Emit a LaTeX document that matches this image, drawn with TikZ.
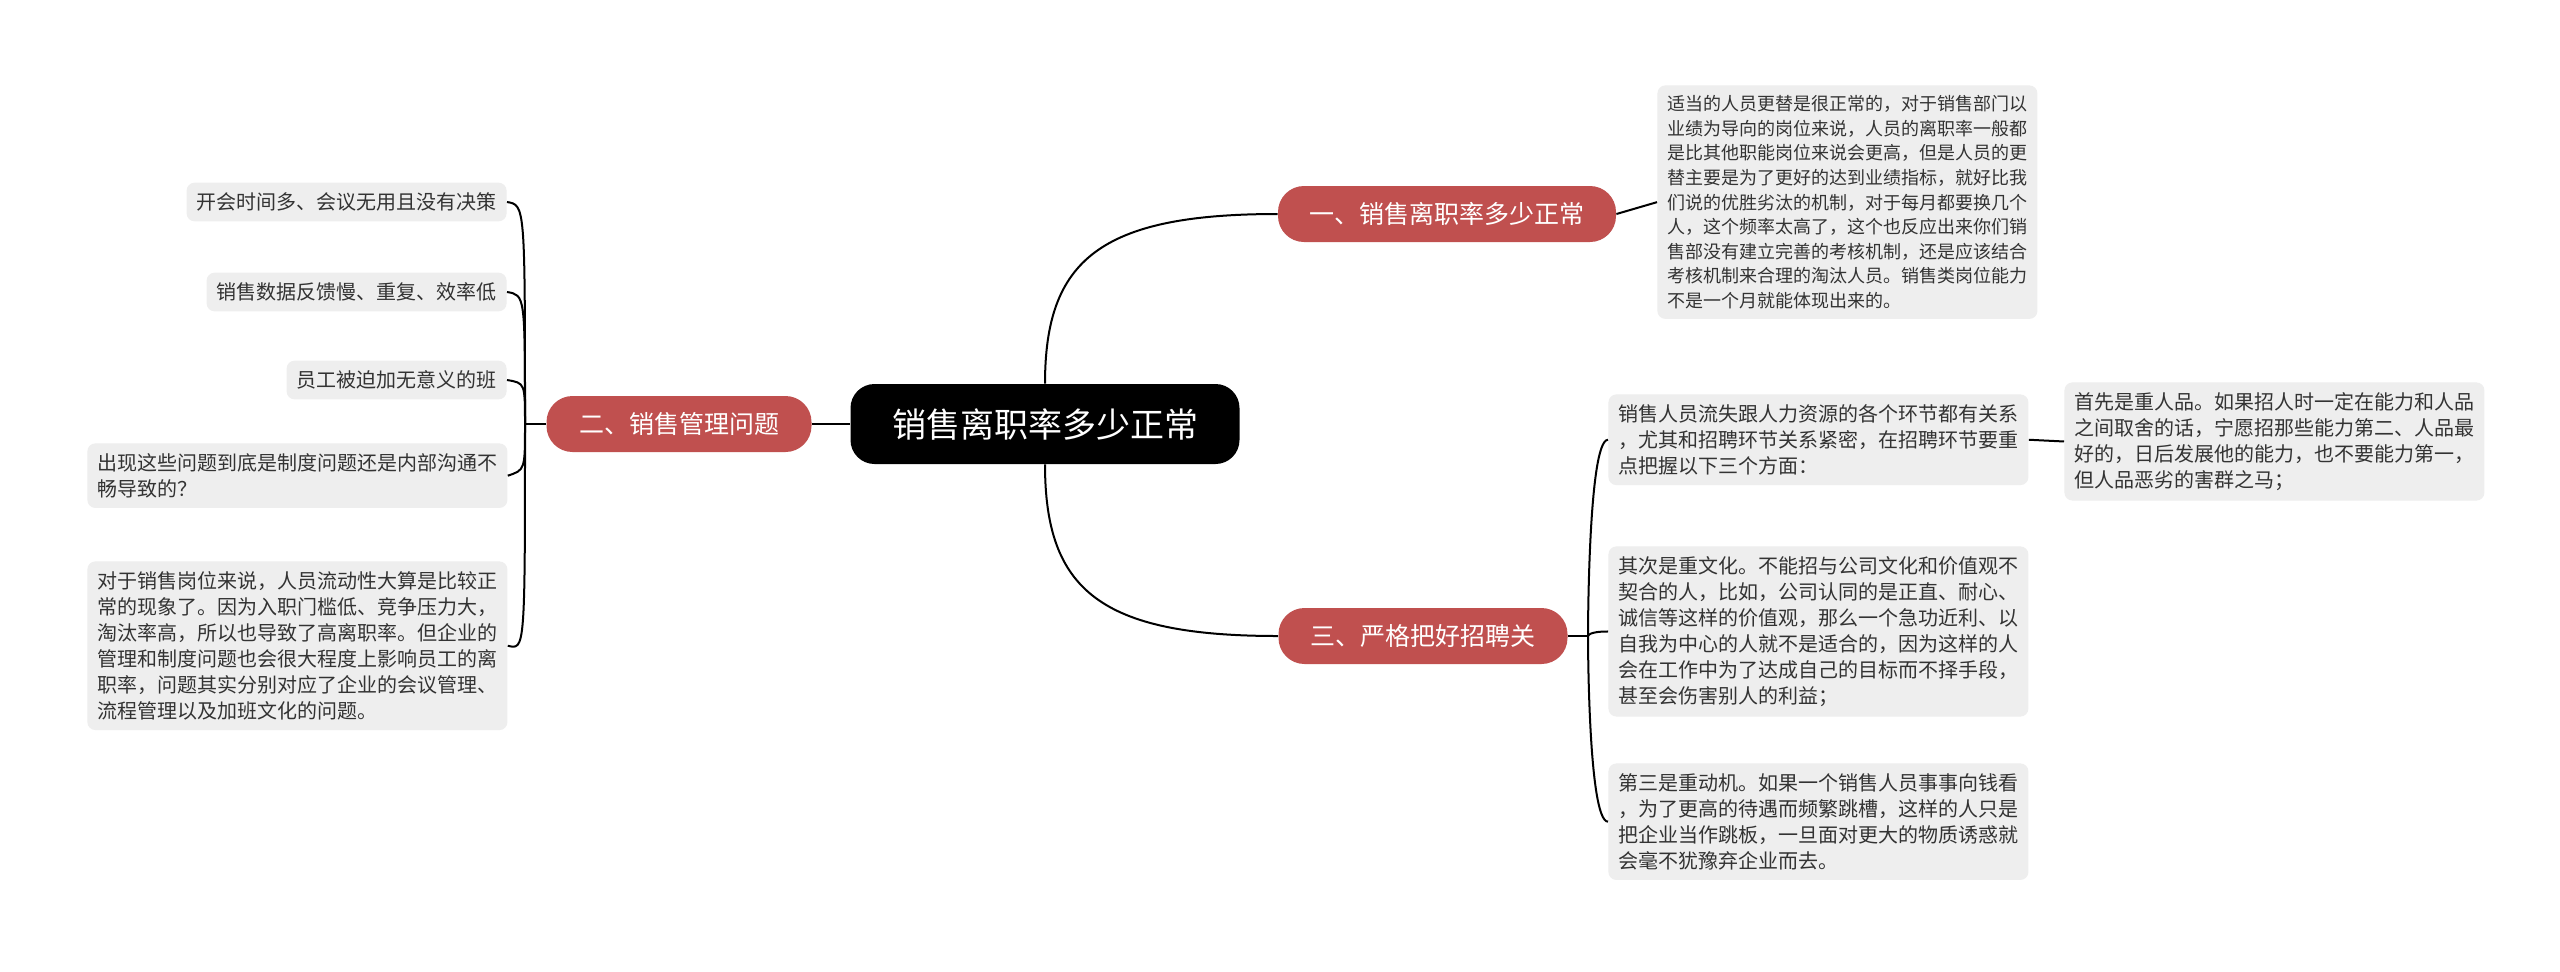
\documentclass[tikz,border=0pt]{standalone}
\usepackage{fontspec}
\setmainfont{Noto Sans CJK SC}
\begin{document}
\begin{tikzpicture}[x=0.5pt,y=-0.5pt,
  rootbox/.style={fill=black,text=white,rounded corners=12pt,font=\fontsize{17}{20}\selectfont,minimum width=194.5pt,minimum height=40pt,inner sep=0pt},
  branchbox/.style={fill=red!55!black!80!white,fill=brn,text=white,rounded corners=13pt,font=\fontsize{12.5}{15}\selectfont,minimum height=28pt,inner xsep=10pt,inner ysep=0pt},
  leafbox/.style={fill=leafc,text=txtc,rounded corners=4pt,font=\fontsize{10}{13}\selectfont,align=left,inner xsep=5pt,inner ysep=5pt},
  smallleaf/.style={leafbox,font=\fontsize{9}{12.3}\selectfont},
  conn/.style={line width=1pt,draw=black}]
\definecolor{brn}{HTML}{C0504F}
\definecolor{leafc}{HTML}{EEEEEE}
\definecolor{txtc}{HTML}{333333}
\fill[white] (0,0) rectangle (2560,971);
\useasboundingbox (0,0) rectangle (2560,971);

\node[rootbox] (root) at (1045,424) {销售离职率多少正常};
\node[branchbox,minimum width=169pt] (b1) at (1447,214) {一、销售离职率多少正常};
\node[branchbox,minimum width=132.5pt] (b2) at (679,424) {二、销售管理问题};
\node[branchbox,minimum width=144.5pt] (b3) at (1423,636) {三、严格把好招聘关};

\node[smallleaf,anchor=north west] (a1) at (1657,85) {适当的人员更替是很正常的，对于销售部门以\\业绩为导向的岗位来说，人员的离职率一般都\\是比其他职能岗位来说会更高，但是人员的更\\替主要是为了更好的达到业绩指标，就好比我\\们说的优胜劣汰的机制，对于每月都要换几个\\人，这个频率太高了，这个也反应出来你们销\\售部没有建立完善的考核机制，还是应该结合\\考核机制来合理的淘汰人员。销售类岗位能力\\不是一个月就能体现出来的。};

\node[leafbox,anchor=east] (l1) at (507,202) {开会时间多、会议无用且没有决策};
\node[leafbox,anchor=east] (l2) at (507,292) {销售数据反馈慢、重复、效率低};
\node[leafbox,anchor=east] (l3) at (507,380) {员工被迫加无意义的班};
\node[leafbox,anchor=north west] (l4) at (87,443) {出现这些问题到底是制度问题还是内部沟通不\\畅导致的？};
\node[leafbox,anchor=north west] (l5) at (87,561) {对于销售岗位来说，人员流动性大算是比较正\\常的现象了。因为入职门槛低、竞争压力大，\\淘汰率高，所以也导致了高离职率。但企业的\\管理和制度问题也会很大程度上影响员工的离\\职率，问题其实分别对应了企业的会议管理、\\流程管理以及加班文化的问题。};

\node[leafbox,anchor=north west] (r1) at (1608,394) {销售人员流失跟人力资源的各个环节都有关系\\，尤其和招聘环节关系紧密，在招聘环节要重\\点把握以下三个方面：};
\node[leafbox,anchor=north west] (r1a) at (2064,382) {首先是重人品。如果招人时一定在能力和人品\\之间取舍的话，宁愿招那些能力第二、人品最\\好的，日后发展他的能力，也不要能力第一，\\但人品恶劣的害群之马；};
\node[leafbox,anchor=north west] (r2) at (1608,546) {其次是重文化。不能招与公司文化和价值观不\\契合的人，比如，公司认同的是正直、耐心、\\诚信等这样的价值观，那么一个急功近利、以\\自我为中心的人就不是适合的，因为这样的人\\会在工作中为了达成自己的目标而不择手段，\\甚至会伤害别人的利益；};
\node[leafbox,anchor=north west] (r3) at (1608,763) {第三是重动机。如果一个销售人员事事向钱看\\，为了更高的待遇而频繁跳槽，这样的人只是\\把企业当作跳板，一旦面对更大的物质诱惑就\\会毫不犹豫弃企业而去。};

% root connectors
\draw[conn] (root.north) .. controls (1045,260) and (1100,214) .. (b1.west);
\draw[conn] (root.south) .. controls (1045,590) and (1100,636) .. (b3.west);
\draw[conn] (b2.east) -- (root.west);
\draw[conn] (b1.east) -- (a1.west);

% branch 2 leaves
\coordinate (h2) at (525,424);
\draw[conn] (b2.west) -- (h2);
\foreach \n/\y in {l1/205,l2/295,l3/383,l4/470,l5/650}{
  \draw[conn] (h2) .. controls (525,\y) and (525,\y) .. (\n.east);
}

% branch 3 leaves
\coordinate (h3) at (1588,636);
\draw[conn] (b3.east) -- (h3);
\foreach \n in {r1,r2,r3}{
  \draw[conn] (h3) .. controls (1588,636) and (1588,0|-\n.west) .. (\n.west);
}
\draw[conn] (r1.east) -- (r1a.west);
\end{tikzpicture}
\end{document}
